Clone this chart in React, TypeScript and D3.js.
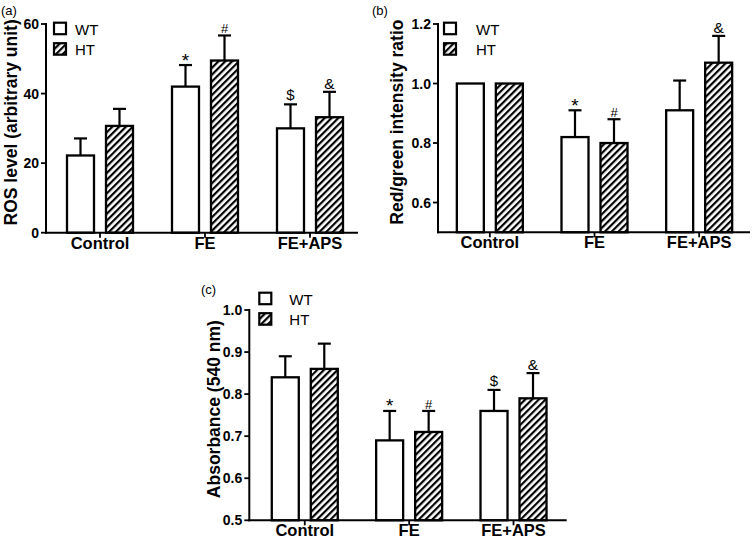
import React from 'react';
import * as d3 from 'd3';

const categories = ['Control', 'FE', 'FE+APS'];
const seriesNames = ['WT', 'HT'];

// (a) ROS level
const rosWT = [22.2, 42.0, 30.0];
const rosWTSd = [4.9, 6.2, 6.9];
const rosHT = [30.7, 49.5, 33.2];
const rosHTSd = [4.9, 7.2, 7.3];
const rosWTMark = ['', '*', '$'];
const rosHTMark = ['', '#', '&'];
const rosTicks = [0, 20, 40, 60];

// (b) Red/green intensity ratio
const ratioWT = [1.0, 0.82, 0.91];
const ratioWTSd = [0, 0.09, 0.1];
const ratioHT = [1.0, 0.8, 1.07];
const ratioHTSd = [0, 0.08, 0.09];
const ratioWTMark = ['', '*', ''];
const ratioHTMark = ['', '#', '&'];
const ratioTicks = [0.6, 0.8, 1.0, 1.2];

// (c) Absorbance
const absWT = [0.84, 0.69, 0.76];
const absWTSd = [0.05, 0.07, 0.05];
const absHT = [0.86, 0.71, 0.79];
const absHTSd = [0.06, 0.05, 0.06];
const absWTMark = ['', '*', '$'];
const absHTMark = ['', '#', '&'];
const absTicks = [0.5, 0.6, 0.7, 0.8, 0.9, 1.0];

const FONT = "'Liberation Sans', Arial, sans-serif";

const markStyle: Record<string, { size: number; dy: number }> = {
  '*': { size: 19, dy: 1.5 },
  '#': { size: 13, dy: -2 },
  '$': { size: 15, dy: -4 },
  '&': { size: 15.5, dy: -3 },
};

type PanelProps = {
  label: string;
  labelPos: [number, number];
  yTitle: string;
  yTitleX: number;
  x0: number;
  x1: number;
  bandRange: [number, number];
  yDomain: [number, number];
  yRange: [number, number];
  ticks: number[];
  fmt: string;
  wt: number[];
  wtSd: number[];
  ht: number[];
  htSd: number[];
  wtMark: string[];
  htMark: string[];
  legendX: number;
  legendY: number;
  legendGap: number;
};

function Panel(p: PanelProps) {
  const y = d3.scaleLinear().domain(p.yDomain).range(p.yRange);
  const xg = d3.scaleBand().domain(categories).range(p.bandRange).paddingInner(0).paddingOuter(0);
  const xs = d3.scaleBand().domain(seriesNames).range([-33, 33]).paddingInner(12 / 39);
  const yBase = y(p.yDomain[0]);
  const fmt = d3.format(p.fmt);
  const vals: Record<string, { m: number[]; sd: number[]; mk: string[] }> = {
    WT: { m: p.wt, sd: p.wtSd, mk: p.wtMark },
    HT: { m: p.ht, sd: p.htSd, mk: p.htMark },
  };
  const yMid = (p.yRange[0] + p.yRange[1]) / 2 - 6;
  return (
    <g>
      <text x={p.labelPos[0]} y={p.labelPos[1]} fontSize={13} fontFamily={FONT}>{p.label}</text>
      <text
        transform={`translate(${p.yTitleX},${yMid}) rotate(-90)`}
        textAnchor="middle"
        fontSize={17.5}
        fontWeight="bold"
        fontFamily={FONT}
      >{p.yTitle}</text>
      {categories.map((c, i) =>
        seriesNames.map((s) => {
          const v = vals[s];
          const cx = (xg(c) as number) + xg.bandwidth() / 2;
          const bx = cx + (xs(s) as number);
          const bw = xs.bandwidth();
          const top = y(v.m[i]);
          const errY = y(v.m[i] + v.sd[i]);
          const mk = v.mk[i];
          const ms = markStyle[mk];
          return (
            <g key={c + s}>
              {v.sd[i] > 0 && (
                <g stroke="#000" strokeWidth={2.2}>
                  <line x1={bx + bw / 2} x2={bx + bw / 2} y1={top} y2={errY} />
                  <line x1={bx + bw / 2 - 6.5} x2={bx + bw / 2 + 6.5} y1={errY} y2={errY} />
                </g>
              )}
              <rect
                x={bx}
                y={top}
                width={bw}
                height={yBase - top}
                fill={s === 'WT' ? '#fff' : 'url(#hatch)'}
                stroke="#000"
                strokeWidth={2.3}
              />
              {mk && (
                <text
                  x={bx + bw / 2}
                  y={errY + ms.dy}
                  textAnchor="middle"
                  fontSize={ms.size}
                  fontFamily={FONT}
                >{mk}</text>
              )}
            </g>
          );
        })
      )}
      <line x1={p.x0} x2={p.x0} y1={p.yRange[1] - 1} y2={yBase + 1} stroke="#000" strokeWidth={2} />
      <line x1={p.x0 - 1} x2={p.x1} y1={yBase} y2={yBase} stroke="#000" strokeWidth={2} />
      {p.ticks.map((t) => (
        <g key={t}>
          <line x1={p.x0 - 5} x2={p.x0} y1={y(t)} y2={y(t)} stroke="#000" strokeWidth={1.8} />
          <text
            x={p.x0 - 7}
            y={y(t) + 5}
            textAnchor="end"
            fontSize={14}
            fontWeight="bold"
            fontFamily={FONT}
          >{fmt(t)}</text>
        </g>
      ))}
      {categories.map((c) => {
        const cx = (xg(c) as number) + xg.bandwidth() / 2;
        return (
          <g key={c}>
            <line x1={cx} x2={cx} y1={yBase} y2={yBase + 5} stroke="#000" strokeWidth={1.8} />
            <text
              x={cx}
              y={yBase + 16}
              textAnchor="middle"
              fontSize={16.5}
              fontWeight="bold"
              fontFamily={FONT}
            >{c}</text>
          </g>
        );
      })}
      {seriesNames.map((s, i) => (
        <g key={s}>
          <rect
            x={p.legendX}
            y={p.legendY + i * 20.5}
            width={12}
            height={11.5}
            fill={s === 'WT' ? '#fff' : 'url(#hatch)'}
            stroke="#000"
            strokeWidth={2.2}
          />
          <text
            x={p.legendX + 12 + p.legendGap}
            y={p.legendY + i * 20.5 + 11.8}
            fontSize={15}
            fontFamily={FONT}
          >{s}</text>
        </g>
      ))}
    </g>
  );
}

export default function App() {
  return (
    <svg
      width={755}
      height={545}
      style={{ position: 'absolute', left: 0, top: 0, background: '#fff' }}
    >
      <defs>
        <pattern id="hatch" patternUnits="userSpaceOnUse" width={4.8} height={4.8} patternTransform="rotate(45)">
          <rect width={4.8} height={4.8} fill="#fff" />
          <rect x={0} y={0} width={2.2} height={4.8} fill="#000" />
        </pattern>
      </defs>
      <rect width={755} height={545} fill="#fff" />
      <Panel
        label="(a)"
        labelPos={[1, 15]}
        yTitle="ROS level (arbitrary unit)"
        yTitleX={17}
        x0={46}
        x1={358}
        bandRange={[47.5, 362.5]}
        yDomain={[0, 60]}
        yRange={[232.7, 24]}
        ticks={rosTicks}
        fmt="d"
        wt={rosWT}
        wtSd={rosWTSd}
        ht={rosHT}
        htSd={rosHTSd}
        wtMark={rosWTMark}
        htMark={rosHTMark}
        legendX={54}
        legendY={22.7}
        legendGap={9}
      />
      <Panel
        label="(b)"
        labelPos={[372, 15]}
        yTitle="Red/green intensity ratio"
        yTitleX={403}
        x0={438}
        x1={750}
        bandRange={[437.5, 751.5]}
        yDomain={[0.5, 1.2]}
        yRange={[232.3, 24]}
        ticks={ratioTicks}
        fmt=".1f"
        wt={ratioWT}
        wtSd={ratioWTSd}
        ht={ratioHT}
        htSd={ratioHTSd}
        wtMark={ratioWTMark}
        htMark={ratioHTMark}
        legendX={444}
        legendY={22.7}
        legendGap={20}
      />
      <Panel
        label="(c)"
        labelPos={[201, 294]}
        yTitle="Absorbance (540 nm)"
        yTitleX={220}
        x0={249.3}
        x1={566.7}
        bandRange={[252.6, 565.7]}
        yDomain={[0.5, 1.0]}
        yRange={[520.3, 310]}
        ticks={absTicks}
        fmt=".1f"
        wt={absWT}
        wtSd={absWTSd}
        ht={absHT}
        htSd={absHTSd}
        wtMark={absWTMark}
        htMark={absHTMark}
        legendX={259.3}
        legendY={292.7}
        legendGap={18}
      />
    </svg>
  );
}
